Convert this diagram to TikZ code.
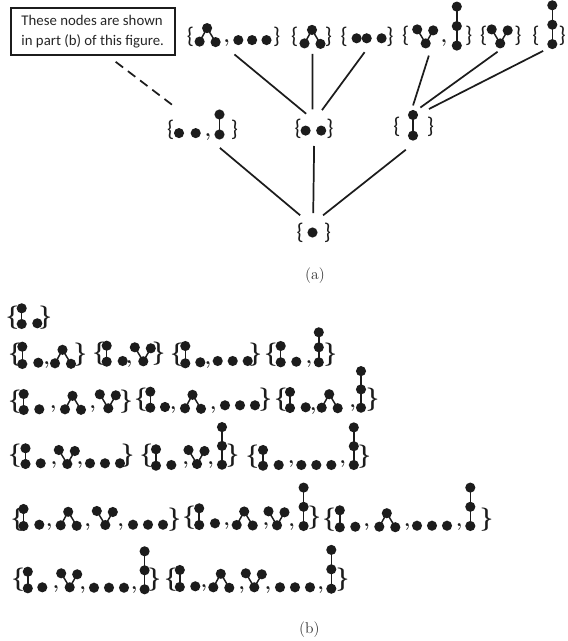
\documentclass[tikz,border=0pt]{standalone}
\usepackage{fontspec}
\newfontfamily\calloutfont{Carlito}
\definecolor{ink}{HTML}{1C1C1C}
\tikzset{
	bond/.style={line width=1.1pt,ink},
	link/.style={line width=1.3pt,ink},
	bracepair/.style={inner sep=0pt,outer xsep=0pt,outer ysep=4.5pt,text=ink,font=\bfseries\fontsize{17.5}{18}\selectfont},
	toppair/.style={bracepair,font=\calloutfont\fontsize{17}{17}\selectfont},
	commamark/.style={inner sep=0pt,text=ink,font=\bfseries\fontsize{15}{15}\selectfont},
	caption/.style={inner sep=0pt,text=black!80,font=\fontsize{11.7}{14}\selectfont},
	callout/.style={draw=ink,line width=1.7pt,inner sep=0pt,minimum width=123pt,minimum height=35.2pt,align=left,text=black!85,font=\calloutfont\fontsize{11.1}{15}\selectfont}
}
\newcommand{\bracewd}{5.5pt}
\newcommand{\blobat}[2]{\fill[ink] (#1,#2) circle (3.8pt);}
\newcommand{\edgeat}[3]{\draw[bond] (#1,#2) -- ++(0,-#3);
	\blobat{#1}{#2} \blobat{#1}{#2-#3}}
\newcommand{\pathat}[3]{\draw[bond] (#1,#2) -- ++(0,-2*#3);
	\blobat{#1}{#2} \blobat{#1}{#2-#3} \blobat{#1}{#2-2*#3}}
\newcommand{\peakat}[2]{\draw[bond] (#1,#2) -- ++(7.5,-13.5) -- ++(8.5,14);
	\blobat{#1}{#2} \blobat{#1+7.5}{#2-13.5} \blobat{#1+16}{#2+.5}}
\newcommand{\veeat}[2]{\draw[bond] (#1-8.5,#2-14) -- (#1,#2) -- (#1+7.5,#2-13);
	\blobat{#1}{#2} \blobat{#1-8.5}{#2-14} \blobat{#1+7.5}{#2-13}}
\newcommand{\triat}[2]{\blobat{#1}{#2} \blobat{#1+15}{#2} \blobat{#1+30}{#2}}
% name, left brace, right brace, height, style
\newcommand{\setat}[5]{\pgfmathsetlengthmacro{\setwd}{(#3-#2)*0.75pt+\bracewd}
	\node[#5] (#1) at ({(#2+#3)/2},#4) {\makebox[\setwd]{\{\hfill\}}};}
\begin{document}
\begin{tikzpicture}[x=0.75pt,y=-0.75pt]
	\useasboundingbox (0,0) rectangle (567,641);
	\node[callout] (note) at (92.75,31.5) {These nodes are shown\\in part (b) of this figure.};
	% part (a)
	\setat{top1}{190.6}{276.7}{36.7}{toppair}
	\setat{top2}{294.8}{328.4}{37}{toppair}
	\setat{top3}{344.3}{389.9}{36.5}{toppair}
	\setat{top4}{405.8}{468.7}{36}{toppair}
	\setat{top5}{483.9}{517.9}{36}{toppair}
	\setat{top6}{536}{562}{36}{toppair}
	\setat{mid1}{170.7}{234.4}{129.5}{toppair}
	\setat{mid2}{298.4}{329.8}{128.4}{toppair}
	\setat{mid3}{397}{430.4}{127.3}{toppair}
	\setat{root}{300.2}{327.3}{233.3}{toppair}
	\peakat{199.6}{41.6}
	\blobat{238.3}{40.1} \blobat{252.1}{40.1} \blobat{266.5}{40.1}
	\peakat{304.5}{43.4}
	\blobat{356.6}{38.3} \blobat{366.7}{38.3} \blobat{381.6}{38.3}
	\veeat{425.7}{43.4}
	\pathat{456.8}{45.6}{19.5}
	\veeat{500.2}{43.4}
	\pathat{552.3}{44.1}{19.4}
	\blobat{179}{133.1} \blobat{195.7}{133.1}
	\edgeat{219.5}{134.5}{20}
	\blobat{305.6}{130.6} \blobat{321.2}{130.6}
	\edgeat{413}{135.6}{20.6}
	\blobat{312.5}{232.5}
	\draw[link] ([xshift=.6pt,yshift=-1.5pt]top1.south) -- ([xshift=-6pt,yshift=-.8pt]mid2.north);
	\draw[link] ([xshift=.7pt,yshift=-.8pt]top2.south) -- ([xshift=-1.2pt,yshift=2.4pt]mid2.north);
	\draw[link] ([xshift=-1.9pt]top3.south) -- ([xshift=5.9pt,yshift=1.9pt]mid2.north);
	\draw[link] ([xshift=-6.3pt,yshift=-2.9pt]top4.south) -- ([xshift=-.5pt,yshift=4.6pt]mid3.north);
	\draw[link] ([xshift=-2.5pt]top5.south) -- ([xshift=5pt,yshift=3pt]mid3.north);
	\draw[link] ([xshift=-4.4pt,yshift=.6pt]top6.south) -- ([xshift=11.4pt,yshift=1.9pt]mid3.north);
	\draw[link] ([xshift=13pt,yshift=-2pt]mid1.south) -- ([xshift=-10.2pt,yshift=1.7pt]root.north);
	\draw[link] ([yshift=-1.4pt]mid2.south) -- ([xshift=-.4pt,yshift=3.4pt]root.north);
	\draw[link] ([xshift=-5.9pt,yshift=-5pt]mid3.south) -- ([xshift=7pt,yshift=1.7pt]root.north);
	\draw[link,dash pattern=on 7pt off 4.5pt] ([xshift=17.2pt,yshift=-4.3pt]note.south) -- ([xshift=-19.8pt,yshift=4.4pt]mid1.north);
	\node[caption] (capa) at (315,275.7) {(a)};
	% part (b)
	\renewcommand{\bracewd}{9pt}
	\setat{one1}{11.7}{46}{317.3}{bracepair}
	\edgeat{21.7}{324}{15.7} \blobat{37.3}{323.3}
	\setat{two1}{14}{81}{355}{bracepair}
	\edgeat{22.3}{364}{17.3} \blobat{38.3}{362.7} \peakat{55}{363.3}
	\setat{two2}{98.3}{159.3}{354}{bracepair}
	\edgeat{106.7}{361.7}{16} \blobat{122.7}{361} \veeat{143.3}{361.3}
	\setat{two3}{176}{256}{355}{bracepair}
	\edgeat{185.3}{363.3}{17.3} \blobat{200.3}{362.3} \triat{217.7}{361}
	\setat{two4}{270}{331}{355}{bracepair}
	\edgeat{280.7}{362.3}{16.3} \blobat{296.3}{361.7} \pathat{318.8}{362.3}{15}
	\setat{thr1}{14}{126.7}{401.7}{bracepair}
	\edgeat{23.7}{410}{16} \blobat{39.3}{409.3} \peakat{65}{409.3} \veeat{108.3}{408.3}
	\setat{thr2}{140}{266}{400}{bracepair}
	\edgeat{150.3}{407.7}{16} \blobat{165}{407} \peakat{185}{408.3} \triat{225}{405.3}
	\setat{thr3}{280}{373.3}{400}{bracepair}
	\edgeat{290}{408}{16} \blobat{305.7}{407.3} \peakat{321.7}{407.7} \pathat{361}{407.7}{18.3}
	\setat{fou1}{14}{128.3}{456}{bracepair}
	\edgeat{25.5}{464}{15.7} \blobat{40.7}{463.3} \veeat{67.3}{464} \triat{90}{463.3}
	\setat{fou2}{145.7}{233.3}{456}{bracepair}
	\edgeat{156}{465.7}{16.4} \blobat{171.3}{465} \veeat{197}{464} \pathat{222}{464.7}{18.8}
	\setat{fou3}{251.7}{365}{456.7}{bracepair}
	\edgeat{263}{465.7}{15.7} \blobat{278.7}{465} \triat{301.3}{465} \pathat{353.8}{465}{18.8}
	\setat{fiv1}{16.7}{175}{520}{bracepair}
	\edgeat{23.5}{526}{17} \blobat{39.3}{524.7} \peakat{60.7}{525.3} \veeat{105.3}{525} \triat{133}{524.7}
	\setat{fiv2}{188.3}{315}{518}{bracepair}
	\edgeat{199.2}{525}{16.7} \blobat{215}{523.3} \peakat{236.7}{525} \veeat{277}{525.3} \pathat{303.6}{526}{19.2}
	\setat{fiv3}{328.3}{487.3}{520}{bracepair}
	\edgeat{339.8}{527.3}{17} \blobat{355.3}{526.7} \peakat{379.3}{526.7} \triat{417}{525.7} \pathat{470.3}{526}{19.2}
	\setat{six1}{17.3}{155}{580}{bracepair}
	\edgeat{27.8}{588.3}{16.6} \blobat{42.3}{587.3} \veeat{69.7}{587.3} \triat{94}{587.7} \pathat{144.6}{589.3}{19}
	\setat{six2}{170}{343.3}{580}{bracepair}
	\edgeat{179.8}{587}{17} \blobat{195.3}{586.3} \peakat{213.3}{587.3} \veeat{254.3}{587.3} \triat{280}{587.3} \pathat{331.3}{588.7}{19.4}
	\foreach \cx/\cy [count=\ci] in {226.8/42.7,444/42.7,208/136.7,
		46.7/365,129.3/364,208/365,309/364,
		53.3/409.3,92.7/409,173.3/410,213.3/410,313.3/410.7,352.7/408,
		54/465,80/465,185.7/465,210.7/465,291.3/464,342.7/464,
		49.3/526.7,87.7/526.7,120.7/526.7,226.7/526,266/526,291.7/526.7,366.7/526.7,407.3/526.7,459.3/526.7,
		56/589.3,82.7/590,134.3/590,204/588,241.7/590,268/590,320.7/590}
		\node[commamark] (comma\ci) at (\cx,\cy) {,};
	\node[caption] (capb) at (309.3,629.3) {(b)};
\end{tikzpicture}
\end{document}
